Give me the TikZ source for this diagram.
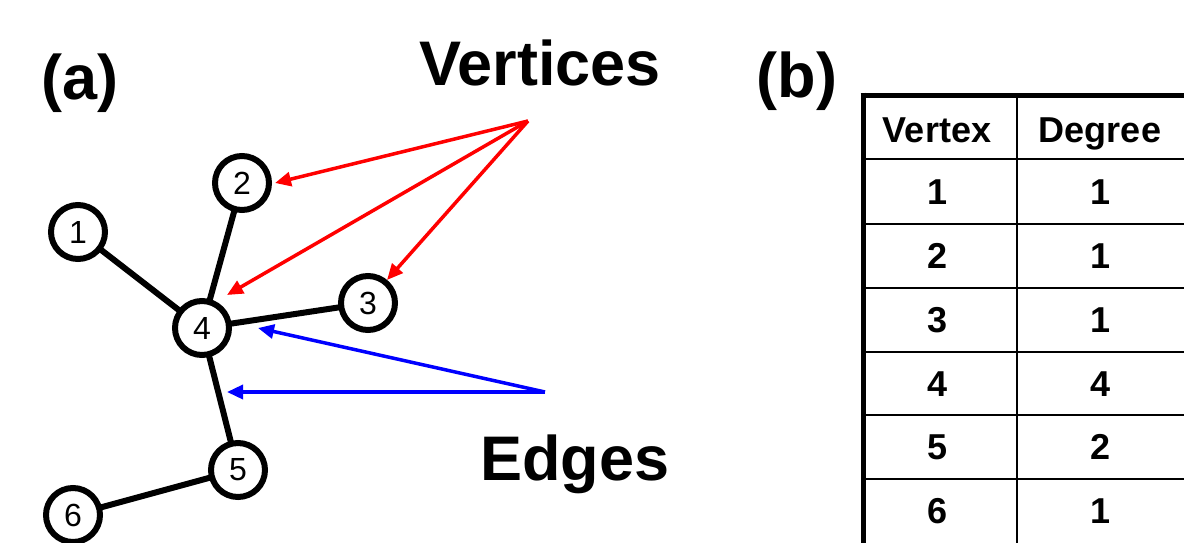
\documentclass[tikz,border=0pt]{standalone}
\usepackage{fontspec}
\setmainfont{Liberation Sans}
\usetikzlibrary{arrows.meta}
\begin{document}
\begin{tikzpicture}[x=1pt,y=-1pt,
  vert/.style={circle,draw=black,line width=6pt,minimum size=54pt,inner sep=0pt,fill=white,font=\fontsize{32}{34}\selectfont},
  edge/.style={line width=6pt,black},
  redarr/.style={draw=red,line width=3.5pt,-{Triangle[length=16pt,width=14pt]}},
  bluearr/.style={draw=blue,line width=3.5pt,-{Triangle[length=16pt,width=14pt]}},
  big/.style={font=\bfseries\fontsize{63}{66}\selectfont,anchor=base,inner sep=0pt},
  cell/.style={font=\bfseries\fontsize{36}{38}\selectfont,inner sep=0pt,anchor=base},
  thin/.style={line width=2.5pt},
  thick/.style={line width=5pt}
]
\useasboundingbox (0,0) rectangle (1184,542);
\clip (0,0) rectangle (1184,542);
% labels
\node[big] (la) at (80,99) {(a)};
\node[big] (lb) at (797,97) {(b)};
\node[big] (lv) at (540,85) {Vertices};
\node[big] (le) at (575,480) {Edges};
% graph
\draw[edge] (78,232) -- (202,328);
\draw[edge] (242,183) -- (202,328);
\draw[edge] (368,303) -- (202,328);
\draw[edge] (238,470) -- (202,328);
\draw[edge] (73,515) -- (238,470);
\node[vert] (n1) at (78,232) {1};
\node[vert] (n2) at (242,183) {2};
\node[vert] (n3) at (368,303) {3};
\node[vert] (n4) at (202,328) {4};
\node[vert] (n5) at (238,470) {5};
\node[vert] (n6) at (73,515) {6};
% arrows
\coordinate (vsrc) at (528,121);
\coordinate (esrc) at (545,392);
\coordinate (t2) at (275,183);
\coordinate (t4) at (227,295);
\coordinate (t3) at (387,280);
\coordinate (te1) at (258,328);
\coordinate (te2) at (227,392);
\draw[redarr] (vsrc) -- (t2);
\draw[redarr] (vsrc) -- (t4);
\draw[redarr] (vsrc) -- (t3);
\draw[bluearr] (esrc) -- (te1);
\draw[bluearr] (esrc) -- (te2);
% table
\foreach \yy in {159,224,288,352,415,479} \draw[thin] (863,\yy) -- (1190,\yy);
\draw[thin] (1017,95) -- (1017,550);
\draw[thick] (860.5,95) -- (1190,95);
\draw[thick] (863,92.5) -- (863,550);
\node[cell] (h1) at (937,142) {Vertex};
\node[cell] (h2) at (1100,142) {Degree};
\node[cell] (v1) at (938,204) {1}; \node[cell] (d1) at (1101,204) {1};
\node[cell] (v2) at (938,268) {2}; \node[cell] (d2) at (1101,268) {1};
\node[cell] (v3) at (938,332) {3}; \node[cell] (d3) at (1101,332) {1};
\node[cell] (v4) at (938,396) {4}; \node[cell] (d4) at (1101,396) {4};
\node[cell] (v5) at (938,459) {5}; \node[cell] (d5) at (1101,459) {2};
\node[cell] (v6) at (938,523) {6}; \node[cell] (d6) at (1101,523) {1};
\end{tikzpicture}
\end{document}
